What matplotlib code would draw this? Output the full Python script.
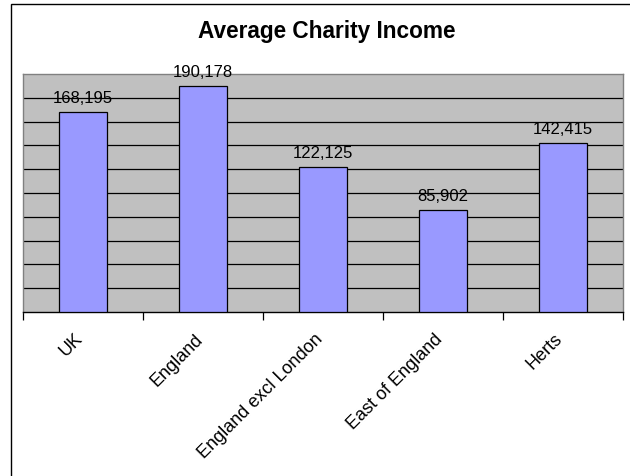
import matplotlib
matplotlib.use("Agg")
import matplotlib.pyplot as plt
from matplotlib.patches import Rectangle
from matplotlib.transforms import ScaledTranslation

plt.rcParams["font.family"] = ["Liberation Sans", "DejaVu Sans"]

categories = ["UK", "England", "England excl London", "East of England", "Herts"]
incomes = [168195, 190178, 122125, 85902, 142415]
value_labels = ["168,195", "190,178", "122,125", "85,902", "142,415"]

fig = plt.figure(figsize=(6.3, 4.77), dpi=100)
W, H = 630, 477

# outer chart frame (runs off the right and bottom edges)
fig.patches.append(Rectangle((11 / W, -0.1), 1.2, (1 - 4.5 / H) + 0.1,
                             transform=fig.transFigure, fill=False,
                             edgecolor="black", linewidth=1.0))

ax = fig.add_axes([23 / W, 1 - 313 / H, 600 / W, 238 / H])
ax.set_facecolor("#C0C0C0")

x = list(range(len(categories)))
ax.bar(x, incomes, width=0.4, color="#9999FF", edgecolor="black",
       linewidth=0.9, zorder=3)

for xi, v, lab in zip(x, incomes, value_labels):
    ax.annotate(lab, (xi, v), xytext=(0, 7), textcoords="offset points",
                ha="center", va="baseline", fontsize=12, zorder=4)

ax.set_xlim(-0.5, len(categories) - 0.5)
ax.set_ylim(0, 200000)

# horizontal gridlines every 20,000
ax.set_yticks(range(20000, 200000, 20000))
ax.yaxis.grid(True, color="black", linewidth=0.9, zorder=1)
ax.tick_params(axis="y", left=False, labelleft=False)

# labels at category centres, tick marks at category boundaries
ax.set_xticks(x)
ax.set_xticklabels(categories, rotation=45, ha="right", va="center",
                   rotation_mode="anchor", fontsize=13)
ax.tick_params(axis="x", which="major", length=0, pad=17)
shift = ScaledTranslation(-3 / 100, 0, fig.dpi_scale_trans)
for lbl in ax.get_xticklabels():
    lbl.set_transform(lbl.get_transform() + shift)
ax.set_xticks([i - 0.5 for i in range(len(categories) + 1)], minor=True)
ax.tick_params(axis="x", which="minor", length=6, width=0.9,
               direction="out", color="black")

for s in ("top", "right", "left"):
    ax.spines[s].set_color("#808080")
    ax.spines[s].set_linewidth(1.0)
ax.spines["bottom"].set_color("black")
ax.spines["bottom"].set_linewidth(1.0)

fig.text(327 / W, 1 - 38 / H, "Average Charity Income",
         ha="center", va="baseline", fontsize=16.3, fontweight="bold")

fig.savefig("out.png", dpi=100, facecolor="white")
